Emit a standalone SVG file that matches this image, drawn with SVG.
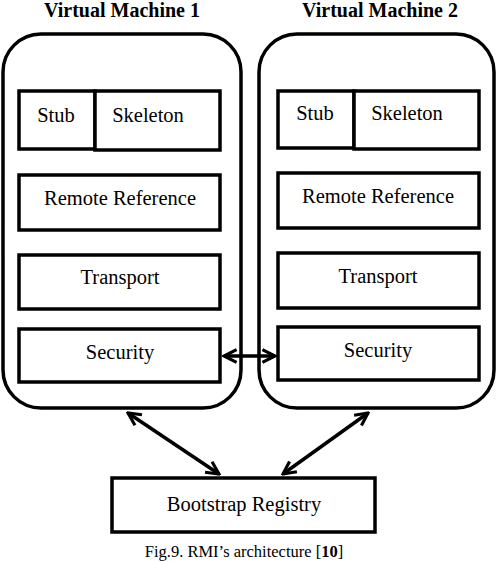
<svg xmlns="http://www.w3.org/2000/svg" width="497" height="562" viewBox="0 0 497 562">
<style>
.vm{fill:#fff;stroke:#000;stroke-width:3.5}
.box{fill:#fff;stroke:#000;stroke-width:3.5}
.t{font-family:"Liberation Serif","Times New Roman",serif;font-size:20.5px;fill:#000;text-anchor:middle}
.h{font-family:"Liberation Serif","Times New Roman",serif;font-size:20px;font-weight:bold;fill:#000;text-anchor:middle}
.c{font-family:"Liberation Serif","Times New Roman",serif;font-size:16.5px;fill:#000;text-anchor:middle}
.con{stroke:#000;stroke-width:3.5;fill:none;marker-start:url(#a);marker-end:url(#a)}
</style>
<defs>
<marker id="a" viewBox="0 0 10 10" refX="9" refY="5" markerWidth="4.5" markerHeight="4.5" orient="auto-start-reverse" markerUnits="strokeWidth">
<path d="M1,1 L9,5 L1,9" fill="none" stroke="#000" stroke-width="2"/>
</marker>
</defs>
<rect width="497" height="562" fill="#fff"/>
<g id="vm1">
<text class="h" x="122" y="17">Virtual Machine 1</text>
<rect class="vm" x="3" y="34" width="238" height="374" rx="38"/>
</g>
<g id="vm2">
<text class="h" x="380" y="17">Virtual Machine 2</text>
<rect class="vm" x="259" y="34" width="235" height="374" rx="38"/>
</g>
<g id="stub1"><rect class="box" x="19" y="91" width="76" height="58"/><text class="t" x="56" y="122">Stub</text></g>
<g id="skeleton1"><rect class="box" x="95" y="91" width="125" height="59"/><text class="t" x="148" y="122">Skeleton</text></g>
<g id="remref1"><rect class="box" x="19" y="175" width="201" height="55"/><text class="t" x="120" y="205">Remote Reference</text></g>
<g id="transport1"><rect class="box" x="19" y="255" width="201" height="54"/><text class="t" x="120" y="284">Transport</text></g>
<g id="security1"><rect class="box" x="19" y="329" width="201" height="53"/><text class="t" x="120" y="359">Security</text></g>
<g id="stub2"><rect class="box" x="278" y="91" width="76" height="57"/><text class="t" x="315" y="120">Stub</text></g>
<g id="skeleton2"><rect class="box" x="354" y="91" width="125" height="58"/><text class="t" x="407" y="120">Skeleton</text></g>
<g id="remref2"><rect class="box" x="278" y="173" width="201" height="55"/><text class="t" x="378" y="203">Remote Reference</text></g>
<g id="transport2"><rect class="box" x="278" y="253" width="201" height="55"/><text class="t" x="378" y="283">Transport</text></g>
<g id="security2"><rect class="box" x="278" y="327" width="201" height="53"/><text class="t" x="378" y="357">Security</text></g>
<g id="bootstrap"><rect class="box" x="112" y="478" width="263" height="54"/><text class="t" x="244" y="511">Bootstrap Registry</text></g>
<g id="connectors">
<line class="con" x1="224" y1="356" x2="275" y2="356"/>
<line class="con" x1="128" y1="413" x2="219" y2="474"/>
<line class="con" x1="368" y1="413" x2="283" y2="474"/>
</g>
<text class="c" x="244" y="557">Fig.9. RMI’s architecture [<tspan font-weight="bold">10</tspan>]</text>
</svg>
